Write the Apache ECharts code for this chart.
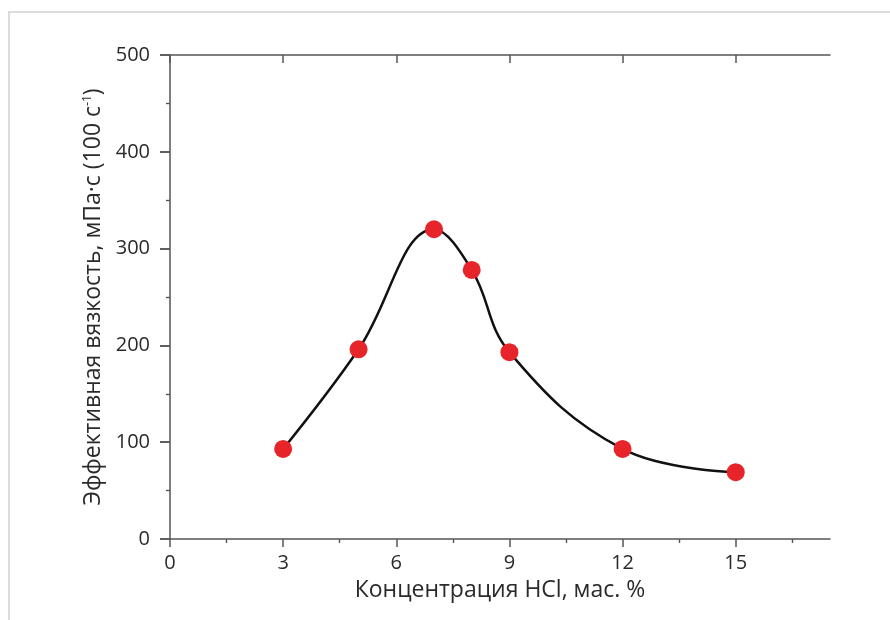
<!DOCTYPE html>
<html>
<head>
<meta charset="utf-8">
<script src="https://cdn.jsdelivr.net/npm/echarts@6/dist/echarts.min.js"></script>
<style>
  html, body { margin: 0; padding: 0; background: #fff; }
  #frame { position: absolute; left: 8px; top: 11px; width: 882px; height: 609px;
           border-left: 2px solid #dcdcdc; border-top: 2px solid #dcdcdc; box-sizing: border-box; }
  #chart { position: absolute; left: 0; top: 0; width: 890px; height: 620px; }
</style>
</head>
<body>
<div id="frame"></div>
<div id="chart"></div>
<script>
// Data
const concentration = [3, 5, 7, 8, 9, 12, 15];
const viscosity = [93, 196, 320, 278, 193, 93, 69];

// Axis ticks
const xMajorTicks = [0, 3, 6, 9, 12, 15];
const xMinorTicks = [1.5, 4.5, 7.5, 10.5, 13.5, 16.5];
const yMajorTicks = [0, 100, 200, 300, 400, 500];
const yMinorTicks = [50, 150, 250, 350, 450];

const xTitle = 'Концентрация HCl, мас. %';
const yTitle = 'Эффективная вязкость, мПа·с (100 с{sup|-1})';

const FONT = '"Open Sans", "Noto Sans", sans-serif';
const AX = '#555';
const TXT = '#2a2a2a';

const chart = echarts.init(document.getElementById('chart'), null, { renderer: 'canvas' });

function xAx(opts) {
  return Object.assign({
    type: 'value', min: 0, max: 17.5, splitLine: { show: false },
    axisLine: { show: false }, axisLabel: { show: false },
    axisTick: { show: false }
  }, opts);
}
function yAx(opts) {
  return Object.assign({
    type: 'value', min: 0, max: 500, splitLine: { show: false },
    axisLine: { show: false }, axisLabel: { show: false },
    axisTick: { show: false }
  }, opts);
}

chart.setOption({
  animation: false,
  backgroundColor: 'transparent',
  grid: { left: 170, right: 60, top: 55, bottom: 81, containLabel: false },
  xAxis: [
    xAx({
      position: 'bottom',
      name: xTitle, nameLocation: 'middle', nameGap: 40,
      nameTextStyle: { fontFamily: FONT, fontSize: 23, color: TXT },
      axisLine: { show: true, onZero: false, lineStyle: { color: AX, width: 1.5 } },
      axisTick: { show: true, inside: false, length: 8, customValues: xMajorTicks, lineStyle: { color: AX, width: 1.5 } },
      axisLabel: { show: true, customValues: xMajorTicks, margin: 14, fontFamily: FONT, fontSize: 20, color: TXT }
    }),
    xAx({
      position: 'bottom',
      axisTick: { show: true, inside: false, length: 4, customValues: xMinorTicks, lineStyle: { color: AX, width: 1.2 } }
    }),
    xAx({
      position: 'top',
      axisLine: { show: true, onZero: false, lineStyle: { color: AX, width: 1.5 } },
      axisTick: { show: true, inside: true, length: 8, customValues: xMajorTicks, lineStyle: { color: AX, width: 1.5 } }
    }),
    xAx({
      position: 'top',
      axisTick: { show: true, inside: true, length: 4, customValues: xMinorTicks, lineStyle: { color: AX, width: 1.2 } }
    })
  ],
  yAxis: [
    yAx({
      position: 'left',
      name: yTitle, nameLocation: 'middle', nameGap: 62, nameRotate: 90,
      nameTextStyle: { fontFamily: FONT, fontSize: 23, color: TXT,
        rich: { sup: { fontFamily: FONT, fontSize: 12, color: TXT, verticalAlign: 'top', padding: [0, 0, 10, 0] } } },
      axisLine: { show: true, onZero: false, lineStyle: { color: AX, width: 1.5 } },
      axisTick: { show: true, inside: false, length: 10, customValues: yMajorTicks, lineStyle: { color: AX, width: 1.5 } },
      axisLabel: { show: true, customValues: yMajorTicks, margin: 20, fontFamily: FONT, fontSize: 20, color: TXT }
    }),
    yAx({
      position: 'left',
      axisTick: { show: true, inside: false, length: 4, customValues: yMinorTicks, lineStyle: { color: AX, width: 1.2 } }
    }),
    yAx({
      position: 'right',
      axisTick: { show: true, inside: true, length: 10, customValues: yMajorTicks, lineStyle: { color: AX, width: 1.5 } }
    }),
    yAx({
      position: 'right',
      axisTick: { show: true, inside: true, length: 4, customValues: yMinorTicks, lineStyle: { color: AX, width: 1.2 } }
    })
  ],
  series: [{
    type: 'line',
    xAxisIndex: 0, yAxisIndex: 0,
    data: concentration.map((c, i) => [c, viscosity[i]]),
    smooth: 0.4,
    symbol: 'circle',
    symbolSize: 18,
    lineStyle: { color: '#111', width: 2.5 },
    itemStyle: { color: '#e8242b', borderWidth: 0 },
    z: 3
  }]
});
</script>
</body>
</html>
